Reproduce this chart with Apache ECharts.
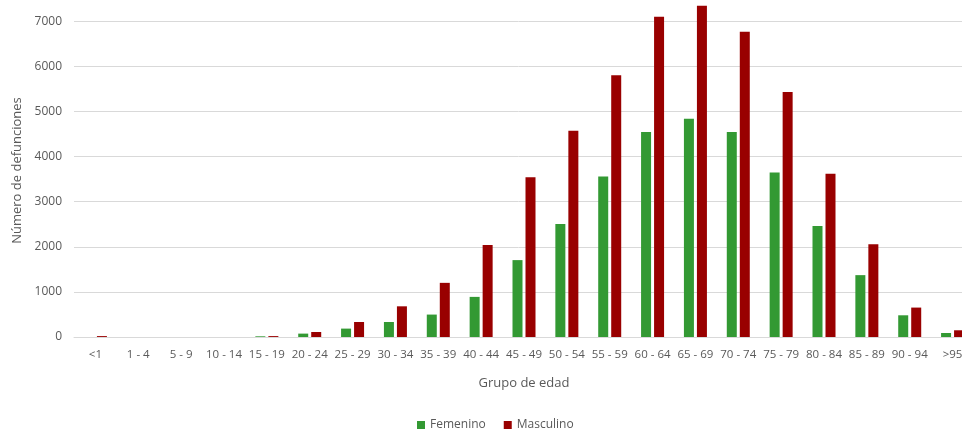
<!DOCTYPE html>
<html>
<head>
<meta charset="utf-8">
<script src="https://cdn.jsdelivr.net/npm/echarts@6/dist/echarts.min.js"></script>
<style>
    html, body { margin: 0; padding: 0; background: #fff; }
    #main { width: 962px; height: 431px; }
</style>
</head>
<body>
<div id="main"></div>
<script>
var grupos = ['<1', '1 - 4', '5 - 9', '10 - 14', '15 - 19', '20 - 24', '25 - 29', '30 - 34', '35 - 39', '40 - 44',
    '45 - 49', '50 - 54', '55 - 59', '60 - 64', '65 - 69', '70 - 74', '75 - 79', '80 - 84', '85 - 89', '90 - 94', '>95'];
var femenino = [0, 0, 0, 0, 15, 75, 186, 333, 497, 889, 1704, 2504, 3556, 4542, 4838, 4542, 3644, 2460, 1371, 481, 89];
var masculino = [20, 0, 0, 0, 20, 111, 333, 680, 1200, 2038, 3542, 4571, 5803, 7095, 7339, 6763, 5432, 3616, 2053, 652, 149];
var yTicks = [0, 1000, 2000, 3000, 4000, 5000, 6000, 7000, 8000];

var chart = echarts.init(document.getElementById('main'));
var txt = '#595959';
var option = {
    animation: false,
    textStyle: { fontFamily: 'Open Sans' },
    grid: { left: 74, right: -12, top: -24, bottom: 94, containLabel: false, outerBoundsMode: 'none' },
    legend: {
        top: 414,
        left: 412,
        itemWidth: 8,
        itemHeight: 8,
        itemGap: 18,
        icon: 'rect',
        textStyle: { color: txt, fontSize: 12 },
        data: ['Femenino', 'Masculino']
    },
    xAxis: {
        type: 'category',
        data: grupos,
        name: 'Grupo de edad',
        nameLocation: 'middle',
        nameGap: 40,
        nameTextStyle: { color: txt, fontSize: 13 },
        axisLine: { lineStyle: { color: '#d9d9d9' } },
        axisTick: { show: false },
        axisLabel: { interval: 0, color: txt, fontSize: 11.5, margin: 12 }
    },
    yAxis: {
        type: 'value',
        min: yTicks[0],
        max: yTicks[yTicks.length - 1],
        interval: 1000,
        name: 'Número de defunciones',
        nameLocation: 'middle',
        nameGap: 50,
        nameTextStyle: { color: txt, fontSize: 13, padding: [0, 0, 0, -28] },
        axisLine: { show: false },
        axisTick: { show: false },
        axisLabel: { color: txt, fontSize: 12, margin: 12, formatter: function (v) { return String(v); } },
        splitLine: { lineStyle: { color: '#d9d9d9' } }
    },
    series: [{
        name: 'Femenino',
        type: 'bar',
        data: femenino,
        barWidth: 10,
        barGap: '30%',
        itemStyle: { color: '#339933' }
    }, {
        name: 'Masculino',
        type: 'bar',
        data: masculino,
        barWidth: 10,
        itemStyle: { color: '#990000' }
    }]
};
chart.setOption(option);
</script>
</body>
</html>
